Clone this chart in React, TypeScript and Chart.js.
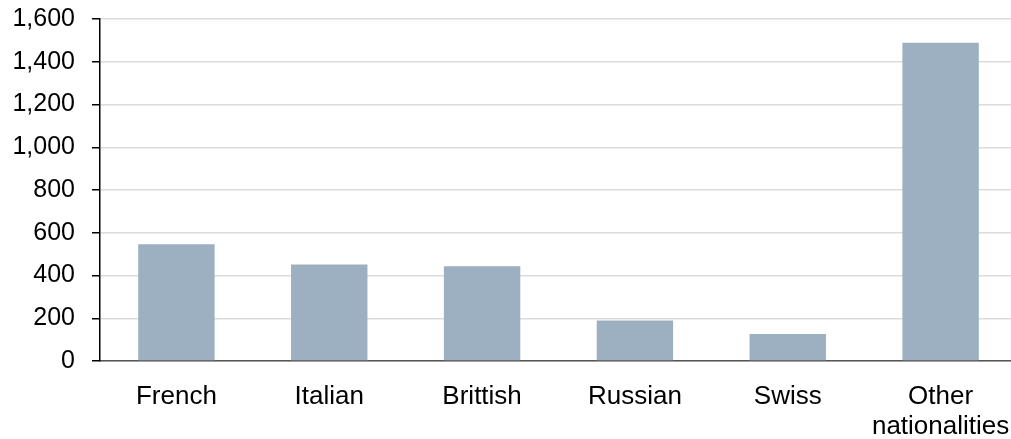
import React, { useEffect, useRef } from "react";
import { Chart, registerables } from "chart.js";

Chart.register(...registerables);

const categories: (string | string[])[] = ["French", "Italian", "Brittish", "Russian", "Swiss", ["Other", "nationalities"]];
const values: number[] = [546, 452, 443, 189, 126, 1489];
const yTicks: number[] = [0, 200, 400, 600, 800, 1000, 1200, 1400, 1600];

export default function App() {
  const ref = useRef<HTMLCanvasElement | null>(null);
  useEffect(() => {
    document.body.style.margin = "0";
    const ctx = ref.current!.getContext("2d")!;
    const chart = new Chart(ctx, {
      type: "bar",
      data: {
        labels: categories,
        datasets: [
          {
            data: values,
            backgroundColor: "#9CB0C1",
            borderWidth: 0,
            barPercentage: 0.5,
            categoryPercentage: 1,
          },
        ],
      },
      options: {
        animation: false,
        responsive: false,
        maintainAspectRatio: false,
        layout: { padding: { top: 19, right: 0, left: 0, bottom: 0 } },
        plugins: { legend: { display: false }, tooltip: { enabled: false } },
        scales: {
          x: {
            grid: { display: false, drawTicks: false },
            border: { display: true, color: "#555555", width: 1.5 },
            ticks: {
              color: "#000000",
              padding: 21,
              font: { family: "'Liberation Sans', Arial, sans-serif", size: 26, lineHeight: 1.15 },
              maxRotation: 0,
              autoSkip: false,
            },
            afterFit: (s: any) => {
              s.height = 78;
              s.paddingRight = 0;
              s.paddingLeft = 0;
            },
          },
          y: {
            min: 0,
            max: 1600,
            afterBuildTicks: (s: any) => {
              s.ticks = yTicks.map((v) => ({ value: v }));
            },
            grid: {
              color: "#DCDCDC",
              lineWidth: 1.5,
              drawTicks: true,
              tickLength: 8,
              tickColor: "#000000",
              tickWidth: 1.5,
            },
            border: { display: true, color: "#000000", width: 1.5 },
            ticks: {
              color: "#000000",
              padding: 17,
              font: { family: "'Liberation Sans', Arial, sans-serif", size: 25 },
              callback: (v: any) => Number(v).toLocaleString("en-US"),
            },
            afterFit: (s: any) => {
              s.width = 100;
              s.paddingTop = 0;
              s.paddingBottom = 0;
            },
          },
        },
      },
    });
    return () => chart.destroy();
  }, []);
  return (
    <div style={{ width: 1011, height: 439, overflow: "hidden" }}>
      <canvas ref={ref} width={1017} height={439} style={{ width: 1017, height: 439, display: "block" }} />
    </div>
  );
}
